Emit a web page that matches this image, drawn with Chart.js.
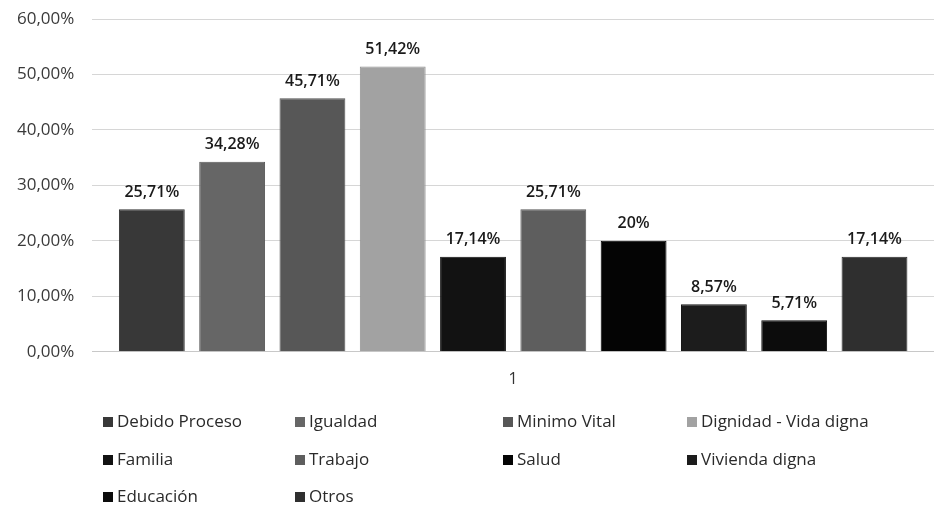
<!DOCTYPE html>
<html>
<head>
<meta charset="utf-8">
<script src="https://cdn.jsdelivr.net/npm/chart.js@4.4.1/dist/chart.umd.min.js"></script>
<style>
  html,body{margin:0;padding:0;background:#fff;}
  #wrap{position:relative;width:934px;height:505px;}
</style>
</head>
<body>
<div id="wrap"><canvas id="c" width="934" height="505"></canvas></div>
<script>
const categories = ["1"];
const seriesNames = ["Debido Proceso","Igualdad","Minimo Vital","Dignidad - Vida digna","Familia","Trabajo","Salud","Vivienda digna","Educación","Otros"];
const seriesValues = [25.71, 34.28, 45.71, 51.42, 17.14, 25.71, 20, 8.57, 5.71, 17.14];
const valueLabels = ["25,71%","34,28%","45,71%","51,42%","17,14%","25,71%","20%","8,57%","5,71%","17,14%"];
const yTicks = [0, 10, 20, 30, 40, 50, 60];
const seriesColors = ["#383838","#666666","#575757","#a2a2a2","#121212","#5e5e5e","#040404","#1c1c1c","#0c0c0c","#2f2f2f"];
const seriesBorders = ["#333333","#5a5a5a","#525252","#909090","#0e0e0e","#585858","#020202","#181818","#0a0a0a","#2a2a2a"];

const FONT = "'Open Sans', 'DejaVu Sans', sans-serif";

const datasets = seriesNames.map((n, i) => ({
  label: n,
  data: [seriesValues[i]],
  backgroundColor: seriesColors[i],
  borderColor: seriesBorders[i],
  borderWidth: 1,
  categoryPercentage: 0.954,
  barPercentage: 0.82
}));

const valueLabelPlugin = {
  id: 'valueLabels',
  afterDatasetsDraw(chart) {
    const ctx = chart.ctx;
    ctx.save();
    ctx.font = "600 16px " + FONT;
    ctx.fillStyle = "#1a1a1a";
    ctx.textAlign = "center";
    ctx.textBaseline = "bottom";
    chart.data.datasets.forEach((ds, i) => {
      const bar = chart.getDatasetMeta(i).data[0];
      ctx.fillText(valueLabels[i], bar.x, bar.y - 9);
    });
    ctx.restore();
  }
};

const legendCols = [103, 295, 503, 687];
const legendRows = [422, 460, 497];
const legendPlugin = {
  id: 'gridLegend',
  afterDraw(chart) {
    const ctx = chart.ctx;
    ctx.save();
    ctx.font = "17px " + FONT;
    ctx.textBaseline = "middle";
    ctx.textAlign = "left";
    chart.data.datasets.forEach((ds, i) => {
      const x = legendCols[i % 4];
      const y = legendRows[Math.floor(i / 4)];
      ctx.fillStyle = ds.backgroundColor;
      ctx.fillRect(x, y - 5, 10, 10);
      ctx.fillStyle = "#2a2a2a";
      ctx.fillText(ds.label, x + 14, y);
    });
    ctx.restore();
  }
};

new Chart(document.getElementById('c'), {
  type: 'bar',
  data: { labels: categories, datasets },
  options: {
    responsive: false,
    animation: false,
    layout: { padding: { left: -1, right: 0, top: 19, bottom: 106 } },
    plugins: { legend: { display: false }, tooltip: { enabled: false } },
    scales: {
      x: {
        grid: { display: false },
        border: { color: '#c8c8c8' },
        ticks: { color: '#333', font: { family: FONT, size: 16 }, padding: 10 }
      },
      y: {
        min: 0, max: 60,
        afterBuildTicks(axis) { axis.ticks = yTicks.map(v => ({ value: v })); },
        afterFit(scale) { scale.paddingTop = 0; },
        grid: { color: '#d6d6d6', drawTicks: false },
        border: { display: false },
        ticks: {
          color: '#3a3a3a',
          font: { family: FONT, size: 17 },
          padding: 18,
          callback: v => v.toFixed(2).replace('.', ',') + '%'
        }
      }
    }
  },
  plugins: [valueLabelPlugin, legendPlugin]
});
</script>
</body>
</html>
